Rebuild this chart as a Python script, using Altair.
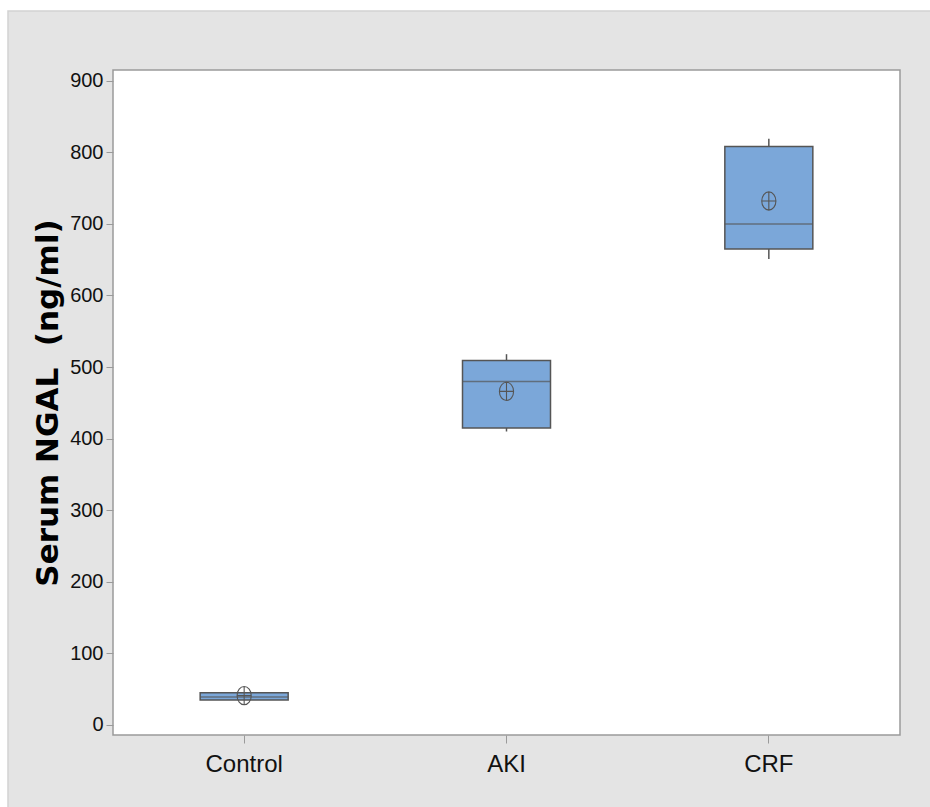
import altair as alt
import pandas as pd

# Serum NGAL summary statistics per group (ng/ml)
groups = ["Control", "AKI", "CRF"]
whisker_low = [35, 410, 651]
q1 = [35, 415, 665]
median = [39, 480, 700]
q3 = [45, 509, 808]
whisker_high = [45, 518, 819]
mean = [41, 466, 732]

df = pd.DataFrame({
    "group": groups,
    "lo": whisker_low,
    "q1": q1,
    "median": median,
    "q3": q3,
    "hi": whisker_high,
    "mean": mean,
})

BOX_FILL = "#7ba7d9"
EDGE = "#555555"
FRAME = "#9a9a9a"
LABEL_FONT = "Liberation Sans, Arial, sans-serif"

x = alt.X(
    "group:N",
    sort=groups,
    scale=alt.Scale(paddingInner=0, paddingOuter=0),
    axis=alt.Axis(
        title=None, labelAngle=0, labelFont=LABEL_FONT, labelFontSize=24,
        labelColor="#111111", labelPadding=9, tickSize=8, tickColor=FRAME,
        domain=False, zindex=1,
    ),
)
yscale = alt.Scale(domain=[-14, 915], nice=False, zero=False)
yaxis = alt.Axis(
    title="Serum NGAL\u00a0\u00a0(ng/ml)", titleFont="DejaVu Sans", titleFontSize=31,
    titleFontWeight="bold", titleColor="#000000", titlePadding=5,
    values=list(range(0, 1000, 100)), labelFont=LABEL_FONT, labelFontSize=20,
    labelColor="#111111", labelPadding=3, tickSize=7, tickColor=FRAME,
    domain=False, grid=False, zindex=1,
)

base = alt.Chart(df)
panel_src = alt.Chart(pd.DataFrame({"k": [0]}))

# grey figure panel and white plotting area behind the boxes
panel = panel_src.mark_rect(color="#e4e4e4", stroke="#d2d2d2", strokeWidth=1.5).encode(
    x=alt.value(-105), x2=alt.value(830), y=alt.value(-59), y2=alt.value(750),
)
plot_area = panel_src.mark_rect(color="#ffffff", stroke=FRAME, strokeWidth=1.5).encode(
    x=alt.value(0), x2=alt.value(787), y=alt.value(0), y2=alt.value(665),
)

whiskers = base.mark_rule(color=EDGE, strokeWidth=1.5).encode(
    x=x,
    y=alt.Y("lo:Q", scale=yscale, axis=yaxis),
    y2="hi:Q",
)

boxes = base.mark_bar(size=88, color=BOX_FILL, stroke=EDGE, strokeWidth=1.5).encode(
    x=x,
    y=alt.Y("q1:Q", scale=yscale),
    y2="q3:Q",
)

medians = base.mark_tick(size=88, thickness=1.5, color=EDGE, orient="horizontal").encode(
    x=x,
    y=alt.Y("median:Q", scale=yscale),
)

# circle with crosshair marking the group mean
mean_shape = (
    "M-0.78,0A0.78,1 0 1,1 0.78,0A0.78,1 0 1,1 -0.78,0"
    "M-0.78,0L0.78,0M0,-1L0,1"
)
means = base.mark_point(
    shape=mean_shape, size=330, filled=False, stroke=EDGE, strokeWidth=1.1, opacity=1
).encode(
    x=x,
    y=alt.Y("mean:Q", scale=yscale),
)

chart = (
    alt.layer(panel, plot_area, whiskers, boxes, medians, means)
    .properties(
        width=787,
        height=665,
        padding={"left": 113, "top": 70, "right": 30, "bottom": 72},
        autosize=alt.AutoSizeParams(type="none"),
        background="#ffffff",
    )
    .configure_view(stroke=None, fill=None)
)

chart.save("out.html", embed_options={"renderer": "svg", "actions": False})
